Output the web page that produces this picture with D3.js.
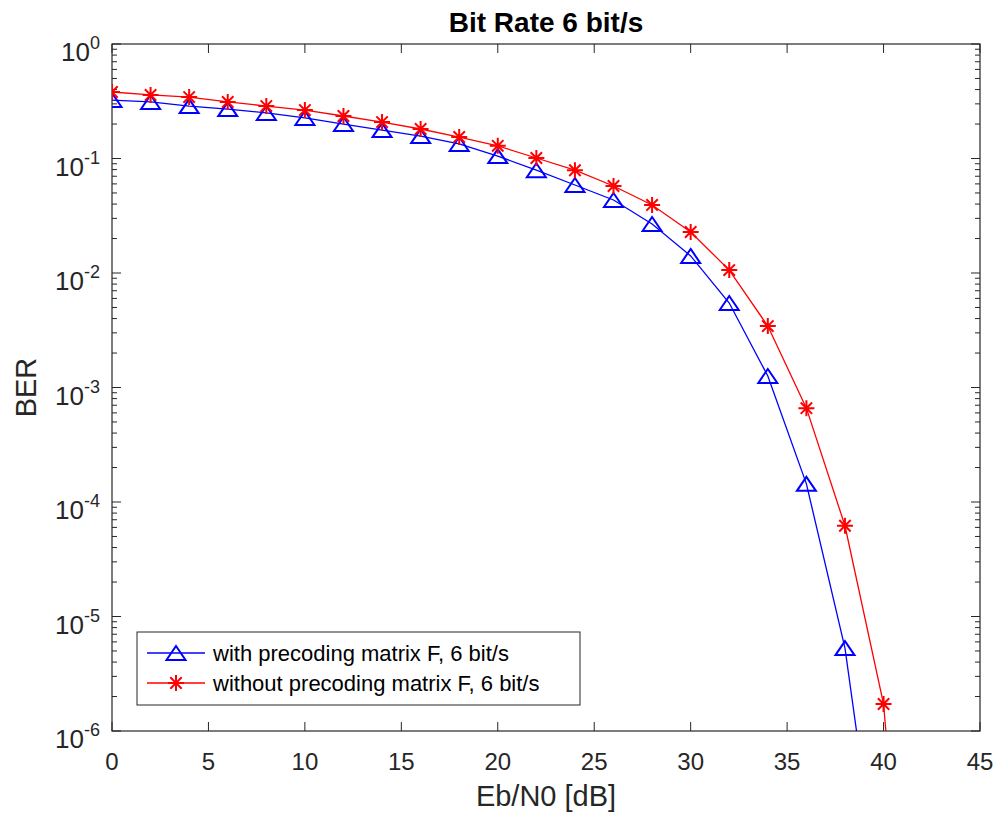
<!DOCTYPE html>
<html>
<head>
<meta charset="utf-8">
<script src="https://cdn.jsdelivr.net/npm/d3@7"></script>
<style>
  body { margin: 0; background: #fff; }
  svg { display: block; font-family: "Liberation Sans", Arial, sans-serif; }
</style>
</head>
<body>
<div id="chart"></div>
<script>
// Eb/N0 values in dB
const ebn0 = [0, 2, 4, 6, 8, 10, 12, 14, 16, 18, 20, 22, 24, 26, 28, 30, 32, 34, 36, 38, 40, 42];
// BER with precoding matrix F (blue triangles)
const berWith = [0.324, 0.312, 0.287, 0.270, 0.250, 0.226, 0.200, 0.177, 0.157, 0.134, 0.105,
  0.079, 0.0587, 0.0434, 0.0268, 0.0141, 0.00547, 0.00126, 1.44e-4, 5.3e-6, 2e-8];
// BER without precoding matrix F (red asterisks)
const berWithout = [0.381, 0.359, 0.344, 0.312, 0.287, 0.265, 0.235, 0.208, 0.181, 0.154, 0.129,
  0.101, 0.079, 0.0575, 0.0393, 0.0228, 0.0106, 0.00344, 6.6e-4, 6.2e-5, 1.72e-6, 2e-10];
const xTicks = [0, 5, 10, 15, 20, 25, 30, 35, 40, 45];
const seriesNames = ["with precoding matrix F, 6 bit/s", "without precoding matrix F, 6 bit/s"];

const width = 999, height = 819;
const margin = { top: 44, right: 19, bottom: 88, left: 112 };
const axisColor = "#262626";

const svg = d3.select("#chart").append("svg")
  .attr("width", width)
  .attr("height", height);

const x = d3.scaleLinear().domain([0, 45]).range([margin.left, width - margin.right]);
const y = d3.scaleLog().domain([1e-6, 1]).range([height - margin.bottom, margin.top]);

const x0 = margin.left, x1 = width - margin.right;
const y0 = height - margin.bottom, y1 = margin.top;

svg.append("defs").append("clipPath").attr("id", "clip")
  .append("rect").attr("x", x0).attr("y", y1).attr("width", x1 - x0).attr("height", y0 - y1);

// ticks
const yAll = y.ticks();
const isMajor = (v) => Math.abs(Math.log10(v) - Math.round(Math.log10(v))) < 1e-9;
const tk = svg.append("g").attr("stroke", axisColor).attr("stroke-width", 1);
xTicks.forEach((v) => {
  tk.append("line").attr("x1", x(v)).attr("x2", x(v)).attr("y1", y0).attr("y2", y0 - 9);
  tk.append("line").attr("x1", x(v)).attr("x2", x(v)).attr("y1", y1).attr("y2", y1 + 9);
});
yAll.forEach((v) => {
  const len = isMajor(v) ? 9 : 5;
  tk.append("line").attr("x1", x0).attr("x2", x0 + len).attr("y1", y(v)).attr("y2", y(v));
  tk.append("line").attr("x1", x1).attr("x2", x1 - len).attr("y1", y(v)).attr("y2", y(v));
});

// box
svg.append("rect")
  .attr("x", x0).attr("y", y1).attr("width", x1 - x0).attr("height", y0 - y1)
  .attr("fill", "none").attr("stroke", axisColor).attr("stroke-width", 1.2);

// x tick labels
svg.append("g").selectAll("text").data(xTicks).join("text")
  .attr("x", (d) => x(d)).attr("y", y0 + 39)
  .attr("text-anchor", "middle").attr("font-size", 24).attr("fill", axisColor)
  .text((d) => d);

// y tick labels 10^n
const yl = svg.append("g").selectAll("text").data(yAll.filter(isMajor)).join("text")
  .attr("x", x0 - 12).attr("y", (d) => y(d) + 17)
  .attr("text-anchor", "end").attr("fill", axisColor).attr("font-size", 26);
yl.append("tspan").text("10");
yl.append("tspan").attr("font-size", 18).attr("dy", -12)
  .text((d) => Math.round(Math.log10(d)) === 0 ? "0" : "-" + Math.abs(Math.round(Math.log10(d))));

// axis labels and title
svg.append("text").attr("x", (x0 + x1) / 2).attr("y", 806)
  .attr("text-anchor", "middle").attr("font-size", 29).attr("fill", axisColor)
  .text("Eb/N0 [dB]");
svg.append("text").attr("transform", `translate(36,${(y0 + y1) / 2}) rotate(-90)`)
  .attr("text-anchor", "middle").attr("font-size", 29).attr("fill", axisColor)
  .text("BER");
svg.append("text").attr("x", (x0 + x1) / 2).attr("y", 32)
  .attr("text-anchor", "middle").attr("font-size", 28).attr("font-weight", "bold").attr("fill", "#000")
  .text("Bit Rate 6 bit/s");

// markers
const triPath = "M0,-7 L9.5,7 L-9.5,7 Z";
const starPath = "M0,-8 L0,8 M-8,0 L8,0 M-5.7,-5.7 L5.7,5.7 M-5.7,5.7 L5.7,-5.7";

const series = [
  { name: seriesNames[0], values: berWith, color: "#0000ff", marker: triPath },
  { name: seriesNames[1], values: berWithout, color: "#ff0000", marker: starPath },
];

const line = d3.line().x((d) => x(d[0])).y((d) => y(d[1]));
const plot = svg.append("g").attr("clip-path", "url(#clip)");

series.forEach((s) => {
  const pts = s.values.map((v, i) => [ebn0[i], v]);
  plot.append("path").attr("d", line(pts))
    .attr("fill", "none").attr("stroke", s.color).attr("stroke-width", 1.3);
  plot.append("g").selectAll("path").data(pts).join("path")
    .attr("transform", (d) => `translate(${x(d[0])},${y(d[1])})`)
    .attr("d", s.marker)
    .attr("fill", "none").attr("stroke", s.color).attr("stroke-width", 2);
});

// legend
const lg = svg.append("g");
lg.append("rect").attr("x", 137).attr("y", 632).attr("width", 443).attr("height", 73)
  .attr("fill", "#fff").attr("stroke", axisColor).attr("stroke-width", 1);
series.forEach((s, i) => {
  const ly = 653 + i * 30;
  lg.append("line").attr("x1", 147).attr("x2", 205).attr("y1", ly).attr("y2", ly)
    .attr("stroke", s.color).attr("stroke-width", 1.3);
  lg.append("path").attr("transform", `translate(176,${ly})`).attr("d", s.marker)
    .attr("fill", "none").attr("stroke", s.color).attr("stroke-width", 2);
  lg.append("text").attr("x", 213).attr("y", ly + 8).attr("font-size", 22).attr("fill", "#000")
    .text(s.name);
});
</script>
</body>
</html>
